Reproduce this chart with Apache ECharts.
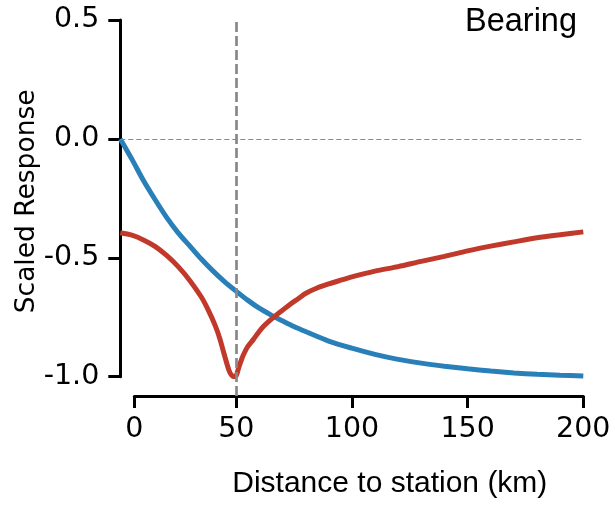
<!DOCTYPE html>
<html><head><meta charset="utf-8">
<script src="https://cdn.jsdelivr.net/npm/echarts@6/dist/echarts.min.js"></script>
<style>html,body{margin:0;padding:0;background:#fff}#c{width:615px;height:505px}</style>
</head><body><div id="c"></div>
<script>
// Data
const blueX = [0,5,10,15,20,25,30,35,40,45,50,55,60,65,70,75,80,90,100,110,120,130,140,150,160,170,180,190,200];
const blueY = [0,-0.085,-0.175,-0.255,-0.33,-0.395,-0.45,-0.505,-0.555,-0.60,-0.64,-0.678,-0.712,-0.74,-0.765,-0.789,-0.81,-0.85,-0.88,-0.906,-0.927,-0.943,-0.956,-0.967,-0.976,-0.984,-0.99,-0.994,-0.997];
const redX = [0,5,10,15,20,25,30,35,38,41,43,45,47,48,49,50,51,52,53,55,57.5,60,62,65,68,73,77,80,85,90,96,100,110,120,130,140,150,160,170,180,190,200];
const redY = [-0.395,-0.405,-0.425,-0.452,-0.49,-0.537,-0.595,-0.665,-0.72,-0.785,-0.84,-0.91,-0.975,-0.993,-1.0,-0.997,-0.967,-0.938,-0.912,-0.874,-0.843,-0.81,-0.787,-0.76,-0.736,-0.698,-0.671,-0.65,-0.627,-0.61,-0.592,-0.58,-0.556,-0.537,-0.515,-0.494,-0.471,-0.451,-0.433,-0.416,-0.403,-0.391];
const xTickValues = [5.9,50,100,150,200];
const xTickLabels = ['0','50','100','150','200'];
const markerDistance = 50;
const zeroLevel = 0;
const titleText = 'Bearing';
const xName = 'Distance to station (km)';
const yName = 'Scaled Response';

const pairs = (xs, ys) => xs.map((x, i) => [x, ys[i]]);

const chart = echarts.init(document.getElementById('c'), null, {renderer: 'canvas'});
const tickFont = 'DejaVu Sans';
const option = {
  animation: false,
  backgroundColor: '#fff',
  title: {
    text: titleText, left: 465, top: 6, padding: 0,
    textStyle: {fontFamily: 'Liberation Sans', fontSize: 32.5, fontWeight: 'normal', color: '#000'}
  },
  grid: [
    {left: 120.3, right: 31.7, top: 20, bottom: 128.3},
    {left: 134.3, right: 31.7, top: 18, bottom: 109}
  ],
  xAxis: [
    {gridIndex: 0, type: 'value', min: 0, max: 200, show: false},
    {
      gridIndex: 1, type: 'value', min: 5.9, max: 200,
      axisLine: {show: true, lineStyle: {color: '#000', width: 3}},
      axisTick: {show: true, length: 12, customValues: xTickValues, lineStyle: {color: '#000', width: 3}},
      axisLabel: {
        customValues: xTickValues,
        formatter: v => { const i = xTickValues.indexOf(v); return i >= 0 ? xTickLabels[i] : ''; },
        fontFamily: tickFont, fontSize: 28.5, color: '#000', margin: 19
      },
      splitLine: {show: false},
      name: xName, nameLocation: 'middle', nameGap: 73, nameMoveOverlap: false,
      nameTextStyle: {fontFamily: 'Liberation Sans', fontSize: 30, color: '#000', padding: [0, 0, 0, 62]}
    }
  ],
  yAxis: [
    {
      gridIndex: 0, type: 'value', min: -1, max: 0.5, interval: 0.5,
      axisLine: {show: true, lineStyle: {color: '#000', width: 3}},
      axisTick: {show: true, length: 12, lineStyle: {color: '#000', width: 3}},
      axisLabel: {formatter: v => v.toFixed(1), fontFamily: tickFont, fontSize: 28.5, color: '#000', margin: 21},
      splitLine: {show: false},
      name: yName, nameLocation: 'middle', nameGap: 80, nameMoveOverlap: false,
      nameTextStyle: {fontFamily: 'DejaVu Sans', fontSize: 26.5, color: '#000', padding: [0, 6, 0, 0]}
    },
    {gridIndex: 1, type: 'value', min: 0, max: 1, show: false}
  ],
  series: [
    {
      type: 'line', xAxisIndex: 0, yAxisIndex: 0, data: pairs(blueX, blueY),
      showSymbol: false, smooth: 0.3,
      lineStyle: {color: '#2980b9', width: 5}, z: 3,
      markLine: {
        silent: true, symbol: 'none', label: {show: false},
        lineStyle: {color: '#888', width: 1.2, type: [5, 3]},
        data: [{yAxis: zeroLevel}]
      }
    },
    {
      type: 'line', xAxisIndex: 0, yAxisIndex: 0, data: pairs(redX, redY),
      showSymbol: false, smooth: 0.3,
      lineStyle: {color: '#c0392b', width: 5}, z: 4
    },
    {
      type: 'line', xAxisIndex: 1, yAxisIndex: 1, data: [], z: 10,
      markLine: {
        silent: true, symbol: 'none', label: {show: false},
        lineStyle: {color: '#888', width: 2.7, type: [10, 4]},
        data: [{xAxis: markerDistance}]
      }
    }
  ]
};
chart.setOption(option);
</script>
</body></html>
